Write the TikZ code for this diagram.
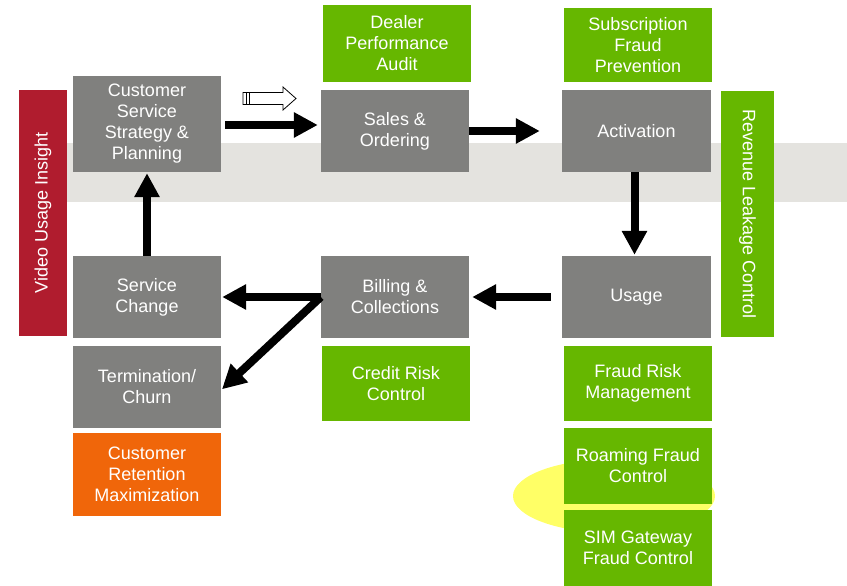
\documentclass[tikz,border=0pt]{standalone}
\usepackage{fontspec}
\setmainfont{Liberation Sans}
\usetikzlibrary{arrows.meta}
\definecolor{boxgray}{RGB}{128,128,126}
\definecolor{boxgreen}{RGB}{102,183,0}
\definecolor{boxorange}{RGB}{240,102,10}
\definecolor{boxred}{RGB}{176,28,46}
\definecolor{bandgray}{RGB}{228,227,223}
\definecolor{hilite}{RGB}{255,255,102}
\begin{document}
\begin{tikzpicture}[x=1pt,y=-1pt,
  box/.style={draw=none, inner sep=0pt, align=center, text=white,
    font=\fontsize{18}{21}\selectfont, minimum width=148pt, minimum height=82pt},
  graybox/.style={box, fill=boxgray},
  greenbox/.style={box, fill=boxgreen},
  orangebox/.style={box, fill=boxorange},
  flow/.style={line width=8pt, -{Triangle[length=24pt,width=24pt]}},
]
\useasboundingbox (0,0) rectangle (847,586);
% background band
\fill[bandgray] (67,143) rectangle (847,202);
% highlight ellipse
\fill[hilite] (614,496) ellipse [x radius=101pt, y radius=37pt];

% vertical bars
\node[box, fill=boxred, minimum width=48pt, minimum height=246pt] (vui) at (43,213) {};
\node[rotate=90, text=white, font=\fontsize{18}{21}\selectfont] at (vui.center) {Video Usage Insight};
\node[box, fill=boxgreen, minimum width=53pt, minimum height=246pt] (rlc) at (747.5,214) {};
\node[rotate=-90, text=white, font=\fontsize{18}{21}\selectfont] at (rlc.center) {Revenue Leakage Control};

% process boxes
\node[graybox, minimum height=96pt] (cs) at (147,124) {Customer\\Service\\Strategy \&\\Planning};
\node[graybox] (so) at (395,131) {Sales \&\\Ordering};
\node[graybox, minimum width=149pt] (act) at (636.5,131) {Activation};
\node[graybox, minimum width=149pt] (use) at (636.5,297) {Usage};
\node[graybox] (bill) at (395,297) {Billing \&\\Collections};
\node[graybox] (sc) at (147,297) {Service\\Change};
\node[graybox] (term) at (147,387) {Termination/\\Churn};

% control boxes
\node[greenbox, minimum height=77pt] (dpa) at (397,43.5) {Dealer\\Performance\\Audit};
\node[greenbox, minimum height=74pt] (sfp) at (638,45) {Subscription\\Fraud\\Prevention};
\node[greenbox, minimum height=75pt] (crc) at (396,383.5) {Credit Risk\\Control};
\node[greenbox, minimum height=75pt] (frm) at (638,383.5) {Fraud Risk\\Management};
\node[greenbox, minimum height=76pt] (rfc) at (638,466) {Roaming Fraud\\Control};
\node[greenbox, minimum height=76pt] (sim) at (638,548) {SIM Gateway\\Fraud Control};
\node[orangebox, minimum height=83pt] (crm) at (147,474.5) {Customer\\Retention\\Maximization};

% hollow arrow
\draw[black, line width=0.8pt, fill=white]
  (243,92.5) -- (283,92.5) -- (283,87) -- (296,98.5) -- (283,110) -- (283,104.5) -- (243,104.5) -- cycle;
\draw[black, line width=0.8pt] (246.5,92.5) -- (246.5,104.5) (249.5,92.5) -- (249.5,104.5);

% flow connectors
\draw[flow, shorten <=4pt, shorten >=3pt] ([yshift=-1pt]cs.east) -- ([yshift=-1pt]cs.east -| so.west);
\draw[flow, shorten >=22pt] (so.east) -- (act.west);
\draw[flow, shorten >=1pt] ([xshift=-2pt]act.south) -- ([xshift=-2pt]use.north);
\draw[flow, shorten <=11pt, shorten >=3pt] (use.west) -- (bill.east);
\draw[flow, shorten >=1pt] (bill.west) -- (sc.east);
\draw[flow, shorten >=1pt] (bill.west) -- ([yshift=-3pt]term.east);
\draw[flow, shorten >=1pt] (sc.north) -- (cs.south);
\end{tikzpicture}
\end{document}
